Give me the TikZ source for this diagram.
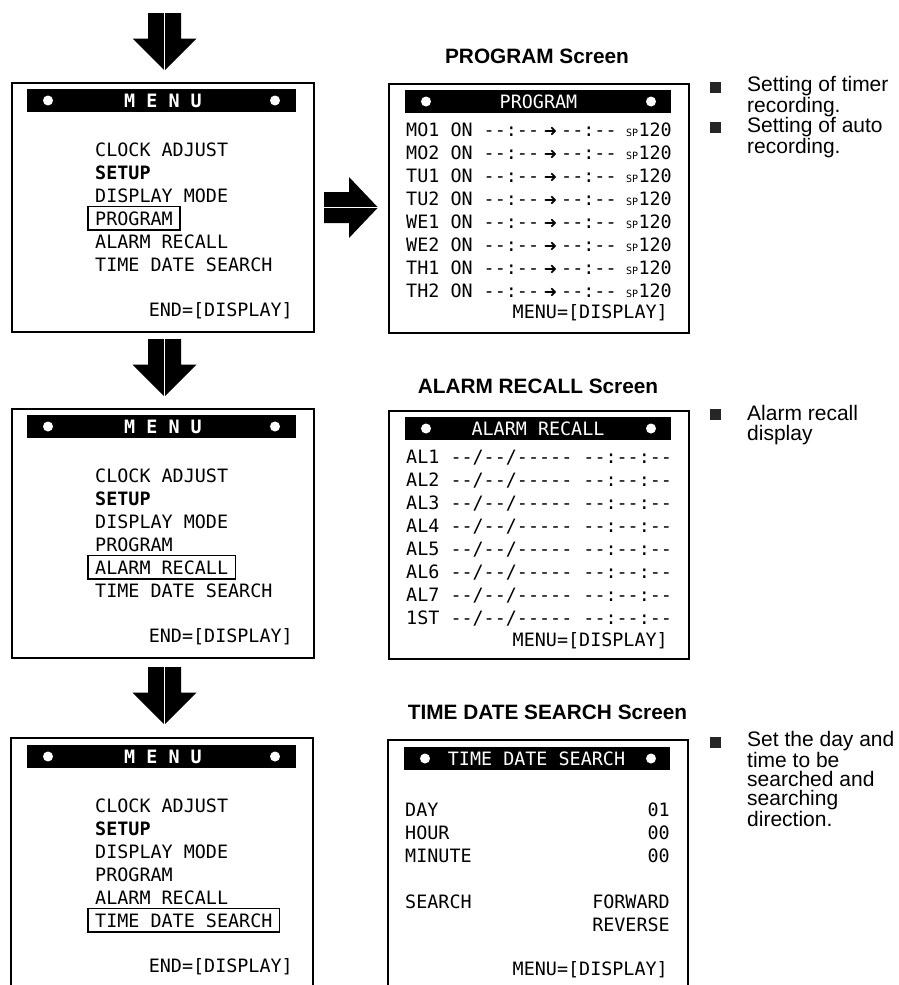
\documentclass[tikz,border=0pt]{standalone}
\usepackage{fontspec}
\setmainfont{Liberation Sans}
\newfontfamily\lcdfont{DejaVu Sans Mono}[Ligatures=TeXOff]
\newfontfamily\symfont{DejaVu Sans}
\usetikzlibrary{positioning,calc,fit}

\newcommand\lcd{\lcdfont\fontsize{18.4}{18.4}\selectfont}
\newcommand\lcdb{\lcdfont\bfseries\fontsize{18.4}{18.4}\selectfont}
\newcommand\spfont{\lcdfont\fontsize{10}{10}\selectfont}
\newcommand\arrowf{\symfont\bfseries\fontsize{16}{16}\selectfont}
\newcommand\ttlfont{\bfseries\fontsize{20.8}{24}\selectfont}
\newcommand\notefont{\fontsize{21}{19.2}\selectfont}

% blockpfeile (x,y in px, y nach unten)
\newcommand\downblock[2]{%
  \fill (#1-16.5,#2) -- (#1+16.5,#2) -- (#1+16.5,#2+25.5) -- (#1+32,#2+25.5)
    -- (#1,#2+57.5) -- (#1-32,#2+25.5) -- (#1-16.5,#2+25.5) -- cycle;
  \draw[white,line width=.6pt] (#1,#2) -- (#1,#2+57.5);}
\newcommand\rightblock[2]{%
  \fill (#1,#2-15.5) -- (#1+25,#2-15.5) -- (#1+25,#2-30.5) -- (#1+54,#2)
    -- (#1+25,#2+30.5) -- (#1+25,#2+15.5) -- (#1,#2+15.5) -- cycle;
  \draw[white,line width=.6pt] (#1,#2) -- (#1+54,#2);}

\tikzset{
  % bildschirme
  frame/.style={draw=black,line width=2pt},
  scrbox/.style={frame,rectangle,inner sep=0pt,anchor=north west},
  bar/.style={fill=black,inner sep=0pt,minimum height=23pt},
  bardot/.style={circle,fill=white,inner sep=0pt,minimum size=10pt},
  bartxt/.style={text=white,font=\lcd,inner sep=0pt},
  lcd/.style={font=\lcd,inner sep=0pt,anchor=base west},
  lcdr/.style={lcd,anchor=base east},
  selbox/.style={draw,line width=1.3pt,inner xsep=7pt,inner ysep=4.5pt},
  % texte daneben (anker = grundlinie der letzten zeile)
  ttl/.style={font=\ttlfont,inner sep=0pt,anchor=base},
  note/.style={font=\notefont,align=left,inner sep=0pt,anchor=base west},
  bullet/.style={fill=black!85,inner sep=0pt,minimum size=11pt,anchor=south west},
}

\begin{document}
\begin{tikzpicture}[x=1pt,y=-1pt]
\useasboundingbox (0,0) rectangle (898,985);
% pfeile
\downblock{164.5}{13}
\downblock{164.5}{339}
\downblock{164.5}{667}
\rightblock{324}{207.5}

% menues links
\node[scrbox,minimum width=302pt,minimum height=249pt] (menuA) at (11,82) {};
\node[scrbox,minimum width=302pt,minimum height=249pt] (menuB) at (11,408) {};
\draw[frame] (11,985) |- (313,738) -- (313,985);
\foreach \ty/\sel/\nm in {81/4/A,407/5/B,737/6/C}{
  \node[bar,minimum width=269pt] (bar\nm) at (161.5,\ty+19.5) {};
  \node[bardot] (dl\nm) at (48,\ty+19.5) {};
  \node[bardot] (dr\nm) at (275,\ty+19.5) {};
  \node[bartxt,font=\lcdb] (head\nm) at (163,\ty+19.5) {M E N U};
  \foreach \txt [count=\i] in {CLOCK ADJUST,\textbf{SETUP},DISPLAY MODE,PROGRAM,ALARM RECALL,TIME DATE SEARCH}
    \node[lcd] (it\nm\i) at (95,\ty+52+23*\i) {\txt};
  \node[lcdr] (end\nm) at (293,\ty+235) {END=[DISPLAY]};
  \node[selbox,fit=(it\nm\sel)] (sel\nm) {};
}

% PROGRAM
\node[ttl] (progttl) at (537,63) {PROGRAM Screen};
\node[scrbox,minimum width=300pt,minimum height=249pt] (prog) at (388,83) {};
\node[bar,minimum width=266pt] (progbar) at (538,101.5) {};
\node[bardot] (progdl) at (426,101.5) {};
\node[bardot] (progdr) at (651,101.5) {};
\node[bartxt] (proghead) at (538.5,101.5) {PROGRAM};
\foreach \dy [count=\i] in {MO1,MO2,TU1,TU2,WE1,WE2,TH1,TH2}{
  \node[lcd] (pa\i) at (406,113+23*\i) {\dy\ ON --:--};
  \node[font=\arrowf,inner sep=0pt,anchor=base] (parr\i) at (550.5,113+23*\i) {➜};
  \node[lcd] (pb\i) at (561,113+23*\i) {--:--};
  \node[lcd,font=\spfont] (psp\i) at (626,113+23*\i) {SP};
  \node[lcdr] (pc\i) at (672,113+23*\i) {120};
}
\node[lcdr] (progend) at (668,318) {MENU=[DISPLAY]};
\node[bullet] (bq1) at (710,93) {};
\node[note] (n1) at (747,112.5) {Setting of timer\\recording.};
\node[bullet] (bq2) at (710,133.5) {};
\node[note] (n2) at (747,153.5) {Setting of auto\\recording.};

% ALARM RECALL
\node[ttl] (alttl) at (538,393) {ALARM RECALL Screen};
\node[scrbox,minimum width=300pt,minimum height=248pt] (alarm) at (388,410) {};
\node[bar,minimum width=266pt] (albar) at (538,428.5) {};
\node[bardot] (aldl) at (426,428.5) {};
\node[bardot] (aldr) at (651,428.5) {};
\node[bartxt] (alhead) at (538,428.5) {ALARM RECALL};
\foreach \lbl [count=\i] in {AL1,AL2,AL3,AL4,AL5,AL6,AL7,1ST}
  \node[lcd] (al\i) at (406,440+23*\i) {\lbl\ --/--/----- --:--:--};
\node[lcdr] (alend) at (668,646) {MENU=[DISPLAY]};
\node[bullet] (bq3) at (710,420) {};
\node[note] (n3) at (747,440) {Alarm recall\\display};

% TIME DATE SEARCH
\node[ttl] (tdsttl) at (547.5,719) {TIME DATE SEARCH Screen};
\draw[frame] (388,985) |- (688,740) -- (688,985);
\node[bar,minimum width=266pt] (tdsbar) at (537,758.5) {};
\node[bardot] (tdsdl) at (425,758.5) {};
\node[bardot] (tdsdr) at (651,758.5) {};
\node[bartxt] (tdshead) at (536.5,758.5) {TIME DATE SEARCH};
\node[lcd] (day) at (405,816) {DAY};
\node[lcd] (hour) at (405,839) {HOUR};
\node[lcd] (minute) at (405,862) {MINUTE};
\node[lcd] (search) at (405,908) {SEARCH};
\node[lcdr] (dayv) at (670,816) {01};
\node[lcdr] (hourv) at (670,839) {00};
\node[lcdr] (minv) at (670,862) {00};
\node[lcdr] (fwd) at (670,908) {FORWARD};
\node[lcdr] (rev) at (670,931) {REVERSE};
\node[lcdr] (tdsend) at (668,975) {MENU=[DISPLAY]};
\node[bullet] (bq4) at (710,748) {};
\node[note] (n4) at (747,826) {Set the day and\\time to be\\searched and\\searching\\direction.};
\end{tikzpicture}
\end{document}
